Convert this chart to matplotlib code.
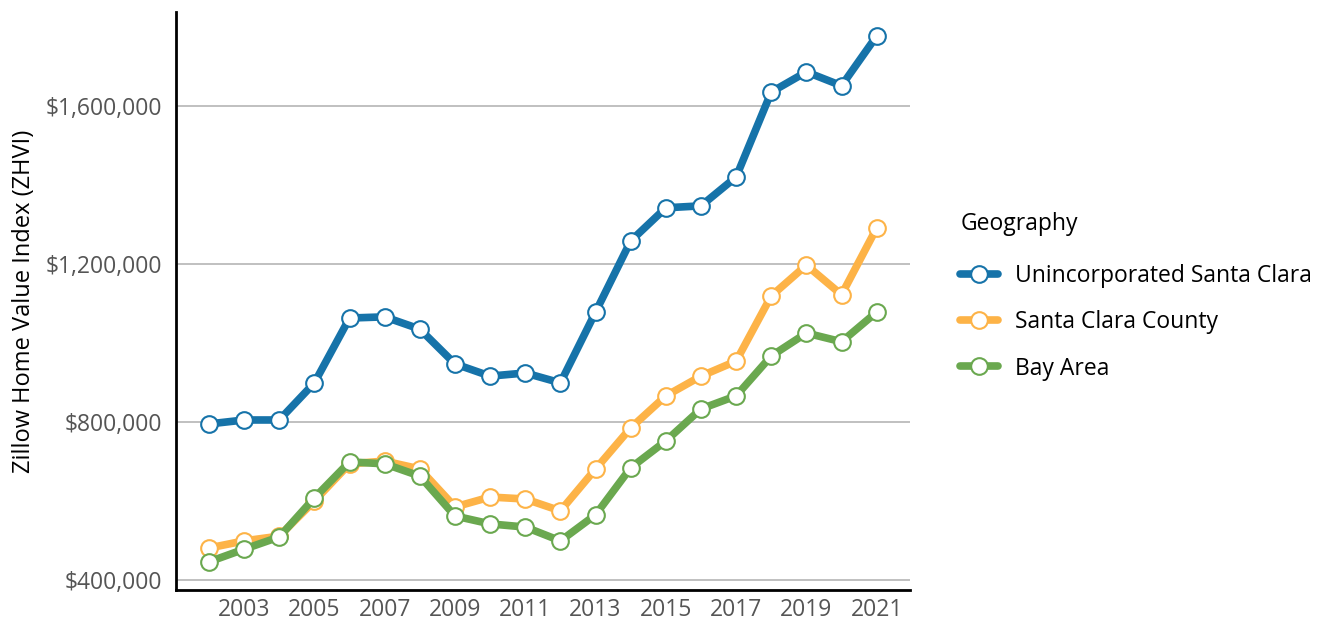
import matplotlib
matplotlib.use("Agg")
from matplotlib import pyplot as plt
from matplotlib.ticker import FuncFormatter

years = list(range(2002, 2022))
tick_years = [2003, 2005, 2007, 2009, 2011, 2013, 2015, 2017, 2019, 2021]

unincorporated = [795000, 805000, 805000, 899000, 1063000, 1066000, 1035000, 947000, 916000, 924000,
                  899000, 1078000, 1258000, 1342000, 1347000, 1420000, 1635000, 1686000, 1651000, 1777000]
county = [481000, 499000, 511000, 600000, 694000, 701000, 681000, 585000, 610000, 605000,
          575000, 681000, 785000, 866000, 916000, 954000, 1119000, 1197000, 1122000, 1291000]
bay_area = [446000, 478000, 509000, 608000, 699000, 694000, 663000, 562000, 542000, 534000,
            499000, 565000, 684000, 752000, 833000, 866000, 967000, 1025000, 1003000, 1078000]

series = [
    ("Unincorporated Santa Clara", unincorporated, "#1673a9"),
    ("Santa Clara County", county, "#fdb347"),
    ("Bay Area", bay_area, "#6aa84f"),
]

plt.rcParams["font.family"] = ["Open Sans", "DejaVu Sans"]

fig = plt.figure(figsize=(13.3, 6.24), dpi=100)
ax = fig.add_axes([0.1323, 0.0545, 0.684 - 0.1323, 0.981 - 0.0545])

for name, vals, col in series:
    ax.plot(years, vals, color=col, lw=5.5, marker="o", markersize=12,
            markerfacecolor="white", markeredgecolor=col, markeredgewidth=1.5,
            label=name, solid_capstyle="round", zorder=3)

ax.set_xlim(2001.06, 2021.94)
ax.set_ylim(374700, 1838000)
ax.set_xticks(tick_years)
ax.set_yticks([400000, 800000, 1200000, 1600000])
ax.yaxis.set_major_formatter(FuncFormatter(lambda v, p: f"${v:,.0f}"))
ax.tick_params(length=0, labelsize=16.5, labelcolor="#555555")
ax.tick_params(axis="y", pad=10)
ax.tick_params(axis="x", pad=6)
ax.grid(axis="y", color="#bbbbbb", lw=1.3)
ax.set_axisbelow(True)
for s in ["top", "right"]:
    ax.spines[s].set_visible(False)
for s in ["left", "bottom"]:
    ax.spines[s].set_linewidth(2)
    ax.spines[s].set_color("black")

ax.set_ylabel("Zillow Home Value Index (ZHVI)", fontsize=17, labelpad=7)

leg = ax.legend(title="Geography", loc="upper left", bbox_to_anchor=(1.041, 0.689),
                frameon=False, fontsize=16.5, title_fontsize=16.5, handlelength=1.62,
                handletextpad=0.74, labelspacing=0.97)
leg._legend_box.align = "left"
leg._legend_box.sep = 20

fig.savefig("out.png", dpi=100)
